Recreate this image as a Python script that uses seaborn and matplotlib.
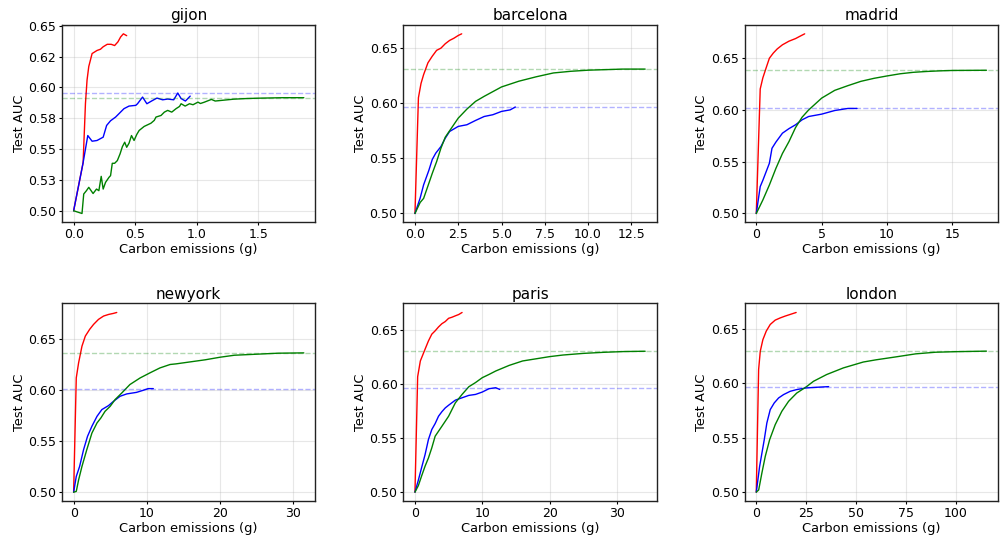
import matplotlib
matplotlib.use("Agg")
import matplotlib.pyplot as plt
import seaborn as sns
from matplotlib.ticker import FormatStrFormatter

sns.set_style("ticks")
plt.rcParams["font.family"] = ["DejaVu Sans"]
plt.rcParams["text.color"] = "black"
plt.rcParams["axes.labelcolor"] = "black"

cities = ["gijon", "barcelona", "madrid", "newyork", "paris", "london"]

# --- gijon ---
gijon_red_x = [0, 0.077, 0.096, 0.109, 0.123, 0.15, 0.19, 0.218, 0.24, 0.273, 0.305, 0.333, 0.36, 0.382, 0.404, 0.431]
gijon_red_y = [0.5, 0.539, 0.587, 0.606, 0.617, 0.6275, 0.630, 0.631, 0.633, 0.635, 0.635, 0.634, 0.637, 0.641, 0.6435, 0.6420]
gijon_blue_x = [0, 0.077, 0.115, 0.15, 0.19, 0.24, 0.268, 0.30, 0.341, 0.368, 0.409, 0.45, 0.505, 0.519, 0.56,
                0.595, 0.633, 0.677, 0.723, 0.764, 0.813, 0.846, 0.873, 0.908, 0.947]
gijon_blue_y = [0.5, 0.539, 0.561, 0.5564, 0.557, 0.5597, 0.5692, 0.573, 0.576, 0.5787, 0.5828, 0.5849, 0.5855, 0.5868,
                0.5922, 0.5868, 0.589, 0.5914, 0.590, 0.5906, 0.590, 0.5955, 0.591, 0.589, 0.593]
gijon_green_x = [0, 0.068, 0.082, 0.104, 0.123, 0.158, 0.186, 0.205, 0.224, 0.24, 0.259, 0.287, 0.3, 0.314, 0.333,
                 0.355, 0.377, 0.396, 0.415, 0.431, 0.45, 0.47, 0.491, 0.513, 0.532, 0.573, 0.628, 0.655, 0.669,
                 0.71, 0.737, 0.764, 0.797, 0.832, 0.86, 0.873, 0.906, 0.941, 0.97, 1.01, 1.03, 1.06, 1.119, 1.15,
                 1.2, 1.3, 1.4, 1.5, 1.6, 1.7, 1.87]
gijon_green_y = [0.5, 0.4978, 0.5136, 0.5163, 0.519, 0.514, 0.5176, 0.5163, 0.5279, 0.5176, 0.523, 0.5271, 0.5285,
                 0.5385, 0.5385, 0.5407, 0.5461, 0.552, 0.5556, 0.5515, 0.5548, 0.561, 0.557, 0.5619, 0.5651, 0.5684,
                 0.571, 0.5733, 0.576, 0.5773, 0.580, 0.5814, 0.580, 0.5828, 0.5846, 0.5868, 0.5849, 0.5868, 0.586,
                 0.5881, 0.587, 0.588, 0.5903, 0.589, 0.5895, 0.5905, 0.591, 0.5913, 0.5915, 0.5917, 0.5917]

# --- barcelona ---
barcelona_red_x = [0, 0.2, 0.35, 0.5, 0.75, 1.0, 1.25, 1.5, 1.75, 2.0, 2.25, 2.5, 2.7]
barcelona_red_y = [0.5, 0.605, 0.618, 0.626, 0.6367, 0.6427, 0.648, 0.650, 0.654, 0.657, 0.659, 0.6615, 0.663]
barcelona_blue_x = [0, 0.3, 0.5, 0.8, 1.0, 1.2, 1.5, 1.75, 2.0, 2.5, 3.0, 3.5, 4.0, 4.5, 5.0, 5.5, 5.8]
barcelona_blue_y = [0.5, 0.514, 0.526, 0.539, 0.549, 0.5547, 0.5607, 0.5683, 0.5744, 0.579, 0.5805, 0.5844, 0.588,
                    0.5896, 0.5926, 0.594, 0.5966]
barcelona_green_x = [0, 0.3, 0.5, 0.75, 1.0, 1.25, 1.5, 1.75, 2.0, 2.5, 3.0, 3.5, 4.0, 5.0, 6.0, 7.0, 8.0, 9.0,
                     10.0, 11.0, 12.0, 13.3]
barcelona_green_y = [0.5, 0.510, 0.5137, 0.525, 0.5364, 0.547, 0.5592, 0.5692, 0.575, 0.5865, 0.5947, 0.6017, 0.6063,
                     0.6148, 0.620, 0.624, 0.6275, 0.629, 0.630, 0.6305, 0.631, 0.631]

# --- madrid ---
madrid_red_x = [0, 0.3, 0.5, 0.75, 1.0, 1.3, 1.6, 2.0, 2.5, 3.0, 3.3, 3.7]
madrid_red_y = [0.5, 0.6203, 0.631, 0.6406, 0.650, 0.655, 0.659, 0.663, 0.6665, 0.669, 0.671, 0.6736]
madrid_blue_x = [0, 0.3, 0.5, 1.0, 1.2, 1.5, 2.0, 2.5, 3.0, 3.5, 4.0, 5.0, 6.0, 7.0, 7.7]
madrid_blue_y = [0.5, 0.526, 0.532, 0.5485, 0.563, 0.569, 0.5776, 0.582, 0.5857, 0.5905, 0.5937, 0.596, 0.5995,
                 0.6015, 0.6015]
madrid_green_x = [0, 0.5, 1.0, 1.5, 2.0, 2.5, 3.0, 3.5, 4.0, 5.0, 6.0, 7.0, 8.0, 9.0, 10.0, 11.0, 12.0, 13.0, 14.0,
                  15.0, 17.6]
madrid_green_y = [0.5, 0.513, 0.5275, 0.5436, 0.558, 0.5695, 0.5830, 0.593, 0.600, 0.6115, 0.619, 0.6235, 0.6277,
                  0.6306, 0.6329, 0.635, 0.6364, 0.6372, 0.6378, 0.6382, 0.6384]

# --- newyork ---
newyork_red_x = [0, 0.36, 0.68, 1.14, 1.6, 2.2, 2.73, 3.4, 4.1, 4.8, 5.45, 5.9]
newyork_red_y = [0.5, 0.6122, 0.627, 0.6434, 0.6533, 0.660, 0.6648, 0.6697, 0.673, 0.6746, 0.6756, 0.6765]
newyork_blue_x = [0, 0.36, 0.82, 1.36, 1.9, 2.5, 3.2, 3.86, 4.77, 5.45, 6.36, 7.27, 8.6, 9.5, 10.2, 10.9]
newyork_blue_y = [0.5, 0.5154, 0.5253, 0.5417, 0.5548, 0.5647, 0.5745, 0.5811, 0.585, 0.5892, 0.5942, 0.5965, 0.598,
                  0.600, 0.6017, 0.6017]
newyork_green_x = [0, 0.36, 0.68, 1.14, 1.8, 2.5, 3.2, 3.73, 4.3, 5.0, 5.68, 6.6, 7.7, 9.1, 10.45, 11.8, 13.2, 14.0,
                   16.0, 18.0, 20.0, 22.0, 25.0, 28.0, 31.5]
newyork_green_y = [0.5, 0.5007, 0.512, 0.5253, 0.5417, 0.558, 0.568, 0.5729, 0.5794, 0.5843, 0.591, 0.5975, 0.6057,
                   0.6122, 0.6172, 0.622, 0.6254, 0.626, 0.628, 0.630, 0.6325, 0.6345, 0.6355, 0.6365, 0.6368]

# --- paris ---
paris_red_x = [0, 0.4, 0.8, 1.2, 1.6, 2.0, 2.5, 3.0, 3.5, 4.0, 4.5, 5.0, 5.5, 6.0, 6.5, 7.0]
paris_red_y = [0.5, 0.6069, 0.6215, 0.6277, 0.6339, 0.640, 0.6463, 0.6494, 0.653, 0.656, 0.658, 0.661, 0.662,
               0.6633, 0.6645, 0.6664]
paris_blue_x = [0, 0.5, 1.0, 1.5, 2.0, 2.5, 3.0, 3.5, 4.0, 4.5, 5.0, 6.0, 7.0, 8.0, 9.0, 10.0, 11.0, 12.0, 12.6]
paris_blue_y = [0.5, 0.511, 0.523, 0.5347, 0.5487, 0.558, 0.5635, 0.5703, 0.5745, 0.578, 0.5805, 0.5852, 0.5874,
                0.5896, 0.5905, 0.5927, 0.5958, 0.5967, 0.5951]
paris_green_x = [0, 0.5, 1.0, 1.5, 2.0, 2.5, 3.0, 4.0, 5.0, 6.0, 7.0, 8.0, 9.0, 10.0, 11.0, 12.0, 14.0, 16.0, 18.0,
                 20.0, 22.0, 25.0, 28.0, 31.0, 34.2]
paris_green_y = [0.5, 0.506, 0.5152, 0.524, 0.5316, 0.541, 0.5518, 0.561, 0.5703, 0.5827, 0.5905, 0.5976, 0.6015,
                 0.606, 0.609, 0.6122, 0.6174, 0.6215, 0.6235, 0.6255, 0.627, 0.6285, 0.6295, 0.6302, 0.6305]

# --- london ---
london_red_x = [0, 1.17, 2.0, 3.3, 5.0, 7.0, 9.5, 12.0, 14.5, 17.0, 20.0]
london_red_y = [0.5, 0.6126, 0.6294, 0.640, 0.6479, 0.654, 0.658, 0.660, 0.6617, 0.6632, 0.6650]
london_blue_x = [0, 1.67, 2.83, 4.0, 5.3, 7.0, 9.0, 11.2, 13.7, 17.0, 20.3, 25.0, 30.3, 36.3]
london_blue_y = [0.5, 0.5236, 0.5359, 0.5482, 0.5635, 0.5758, 0.5819, 0.5865, 0.5896, 0.5926, 0.5942, 0.5957,
                 0.5963, 0.5969]
london_green_x = [0, 1.2, 2.8, 4.5, 6.7, 9.5, 12.8, 16.2, 20.3, 25.0, 28.7, 35.3, 43.7, 53.7, 60.0, 70.0, 80.0,
                  90.0, 100.0, 115.5]
london_green_y = [0.5, 0.502, 0.5175, 0.5328, 0.5482, 0.562, 0.5742, 0.5834, 0.591, 0.5966, 0.6018, 0.608, 0.6141,
                  0.6195, 0.6215, 0.6242, 0.627, 0.6285, 0.629, 0.6295]

series = {
    "gijon": [(gijon_red_x, gijon_red_y), (gijon_blue_x, gijon_blue_y), (gijon_green_x, gijon_green_y)],
    "barcelona": [(barcelona_red_x, barcelona_red_y), (barcelona_blue_x, barcelona_blue_y),
                  (barcelona_green_x, barcelona_green_y)],
    "madrid": [(madrid_red_x, madrid_red_y), (madrid_blue_x, madrid_blue_y), (madrid_green_x, madrid_green_y)],
    "newyork": [(newyork_red_x, newyork_red_y), (newyork_blue_x, newyork_blue_y),
                (newyork_green_x, newyork_green_y)],
    "paris": [(paris_red_x, paris_red_y), (paris_blue_x, paris_blue_y), (paris_green_x, paris_green_y)],
    "london": [(london_red_x, london_red_y), (london_blue_x, london_blue_y), (london_green_x, london_green_y)],
}
colors = ["red", "blue", "green"]

fig, axes = plt.subplots(2, 3, figsize=(10.02, 5.4), dpi=100)
fig.subplots_adjust(left=0.062, right=0.996, top=0.954, bottom=0.072, wspace=0.348, hspace=0.41)

for ax, city in zip(axes.flat, cities):
    for (xs, ys), c in zip(series[city], colors):
        sns.lineplot(x=xs, y=ys, color=c, lw=1.0, estimator=None, sort=False, ax=ax)
    # best score reached by the blue and green runs
    for (xs, ys), c in zip(series[city][1:], colors[1:]):
        ax.axhline(max(ys), color=c, ls="--", lw=1.0, alpha=0.3)
    ax.set_title(city, fontsize=11, pad=3.5)
    ax.set_xlabel("Carbon emissions (g)", fontsize=9.4, labelpad=1.5)
    ax.set_ylabel("Test AUC", fontsize=9.4, labelpad=2)
    ax.tick_params(labelsize=9, colors="black", length=2.2, width=0.8, pad=2)
    ax.yaxis.set_major_formatter(FormatStrFormatter("%.2f"))
    ax.grid(True, color="#b0b0b0", alpha=0.3, lw=0.8)
    for s in ax.spines.values():
        s.set_color("#222222")
        s.set_linewidth(1.0)

fig.savefig("out.png", dpi=100)
